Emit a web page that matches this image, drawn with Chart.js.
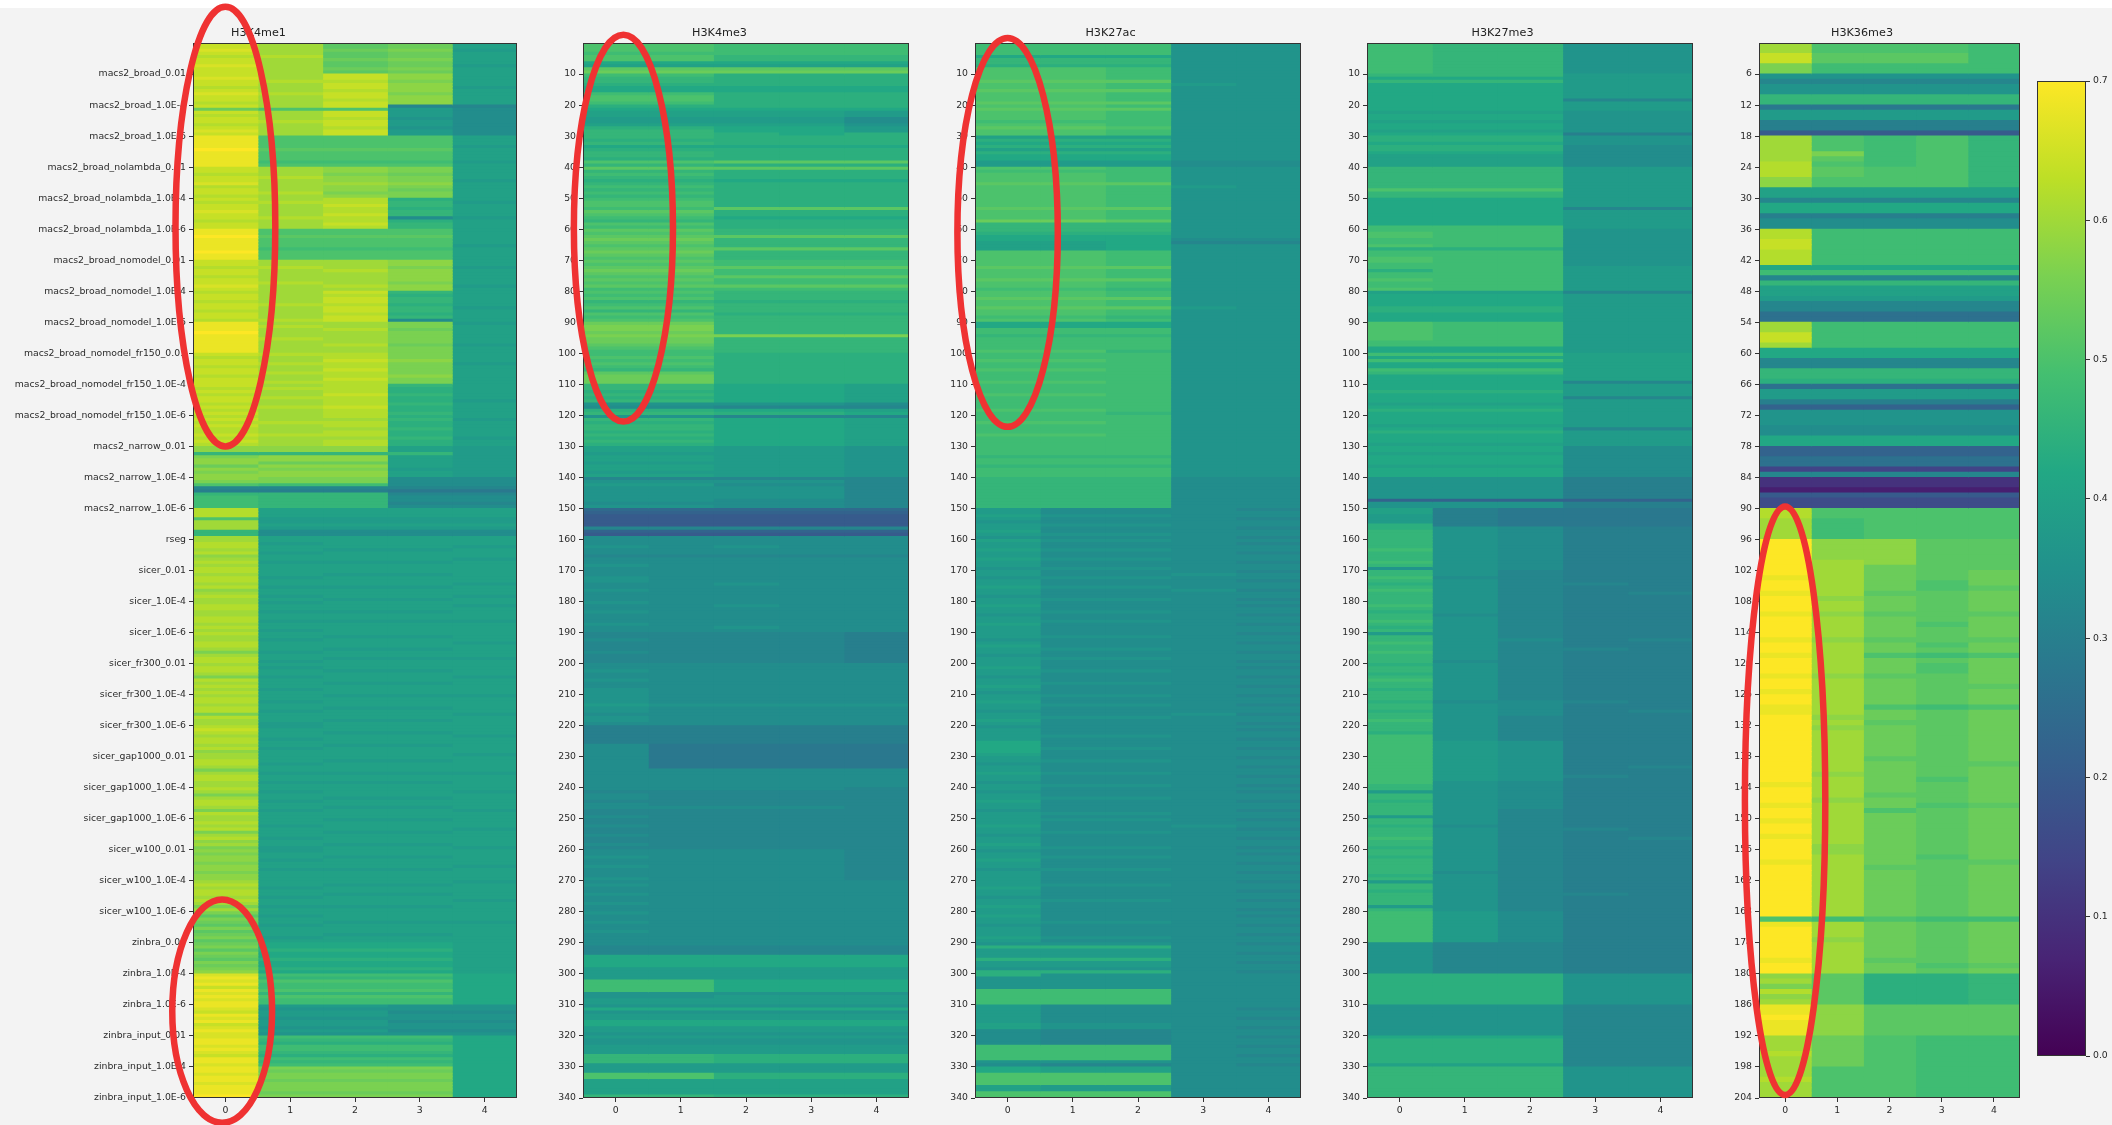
<!DOCTYPE html>
<html><head><meta charset="utf-8">
<script src="https://cdn.jsdelivr.net/npm/chart.js@4.4.1/dist/chart.umd.min.js"></script>
<style>
html,body{margin:0;padding:0;background:#f3f3f3;width:2112px;height:1125px;overflow:hidden;position:relative}
#topband{position:absolute;left:0;top:0;width:2112px;height:8px;background:#fff}
canvas{position:absolute;top:0}
</style></head><body>
<div id="topband"></div>
<canvas id="c1" width="530" height="1125" style="left:0px;width:530px;height:1125px"></canvas>
<canvas id="c2" width="390" height="1125" style="left:530px;width:390px;height:1125px"></canvas>
<canvas id="c3" width="392" height="1125" style="left:920px;width:392px;height:1125px"></canvas>
<canvas id="c4" width="392" height="1125" style="left:1312px;width:392px;height:1125px"></canvas>
<canvas id="c5" width="326" height="1125" style="left:1704px;width:326px;height:1125px"></canvas>
<canvas id="cb" width="82" height="1125" style="left:2030px;width:82px;height:1125px"></canvas>
<script>
// ===== DATA =====
// Each heatmap column is written as groups of characters, one character per row.
// Character c encodes the value CODE.indexOf(c) * STEP (e.g. 'p' = 0.50, 'z' = 0.70).
const CODE = "0123456789abcdefghijklmnopqrstuvwxyz";
const STEP = 0.02;
const VMAX = 0.7;

const PANEL_TITLES = ["H3K4me1", "H3K4me3", "H3K27ac", "H3K27me3", "H3K36me3"];
const X_TICKS = [0, 1, 2, 3, 4];
const TICKS_340 = [10,20,30,40,50,60,70,80,90,100,110,120,130,140,150,160,170,180,190,200,210,220,230,240,250,260,270,280,290,300,310,320,330,340];
const TICKS_204 = [6,12,18,24,30,36,42,48,54,60,66,72,78,84,90,96,102,108,114,120,126,132,138,144,150,156,162,168,174,180,186,192,198,204];
const TOOL_LABELS = ["macs2_broad_0.01","macs2_broad_1.0E-4","macs2_broad_1.0E-6","macs2_broad_nolambda_0.01","macs2_broad_nolambda_1.0E-4","macs2_broad_nolambda_1.0E-6","macs2_broad_nomodel_0.01","macs2_broad_nomodel_1.0E-4","macs2_broad_nomodel_1.0E-6","macs2_broad_nomodel_fr150_0.01","macs2_broad_nomodel_fr150_1.0E-4","macs2_broad_nomodel_fr150_1.0E-6","macs2_narrow_0.01","macs2_narrow_1.0E-4","macs2_narrow_1.0E-6","rseg","sicer_0.01","sicer_1.0E-4","sicer_1.0E-6","sicer_fr300_0.01","sicer_fr300_1.0E-4","sicer_fr300_1.0E-6","sicer_gap1000_0.01","sicer_gap1000_1.0E-4","sicer_gap1000_1.0E-6","sicer_w100_0.01","sicer_w100_1.0E-4","sicer_w100_1.0E-6","zinbra_0.01","zinbra_1.0E-4","zinbra_1.0E-6","zinbra_input_0.01","zinbra_input_1.0E-4","zinbra_input_1.0E-6"];
const CB_TICKS = [0, 0.1, 0.2, 0.3, 0.4, 0.5, 0.6, 0.7];

// H3K4me1 (340 rows)
const H3K4me1_c0 = [
"wwxwvwwxww","wxwwvwxwwv","wrwvwwvwxw","yyyyzyyyyy","wwvwwxvwwv",
"wvwwxwwvww","yyzyyyyzyy","wwvwwvwwxw","vwwvwwvwwv","yyyzyyyyyy",
"wvwwvwwvww","wvwvwwvwvw","vwvwvvwvwv","ttnsttrtst","tspgfnoooo",
"vvvpuuunnu","uvvuvtuvuv","vuvvuvtuvu","uvvuuvvuvu","vuuvvusuvv",
"uvvusvuvuv","uvvuvvsvuu","vwvuvvuvtu","uvvusuvvuu","vusuvvusvu",
"uvuvsuvtus","tsttsttstt","uvuvvuvusu","sqsrqsqrsq","rsqsrqsrst",
"xyxywyxyxy","yxwyxywxyx","xyyxyxwyyx","yyxyyxyyyz"];
const H3K4me1_c1 = [
"uuuuvuuuuu","uuvuuuvuuu","upuuuvuuuu","ppppqpppop","uuuvuuuuvu",
"uvuuuuvuuu","ppqpppoppp","uuvuuuuvuu","uuuuvuuuuv","uvuuuvuuuu",
"vuuvuuvuuv","uvuuvuuvuu","uuvuuuvuuu","ttnttrtstt","ssogfnnnnn",
"kkkjjkjhhk","kjkkjkkjkk","kkjkkjkkjk","jkkjkkjkkj","kkjkkkjkkj",
"kjkkjkkkjk","kkjkkjkkkj","jkkkjkkjkk","kkjkkjkkjk","kjkkjkkjkk",
"kkjkkkjkkj","jkkjkkjkkk","kkjkkjkkjk","kjkkjkkkjk","llmllmllml",
"onpoopnpoo","jijjijjiji","onmoonmono","srssrsssrs"];
const H3K4me1_c2 = [
"qqrqqrqqrq","wwvwwvwwvw","wpwwvwwvww","ppppqpppop","ttsttuttst",
"vvwvvwvvwv","ppqpppoppp","uuuvuuuuvu","wvwwvwwvww","uuvuuuuvuu",
"vvwvvwvvwv","vvvwvvvwvv","vuvvuvvuvv","ttnttrtstt","ssogfnnnnn",
"kkkjjkjhhk","kkkjkkkjkk","kjkkkjkkkj","kkkjkkjkkk","kjkkkjkkjk",
"kkjkkkjkkk","jkkkjkkkjk","kkjkkkjkkk","kjkkkjkkjk","kkkjkkjkkk",
"jkkkjkkkjk","kkjkkkjkkk","kjkkjkkkjk","kkkjkkkjkk","llmllmllml",
"onpoopnpoo","jijjijjiji","onmoonmono","srssrsssrs"];
const H3K4me1_c3 = [
"rrsrrsrrsr","ttstttsttt","gjjjijjijj","ppppqpppop","ssrsstsrss",
"mnnmnnhmnn","ppqpppoppp","ttsttttstt","nmnnmnnmnh","ssrssssrss",
"sstsssstss","nmmnmmnmmn","mnmmnmmnmm","kknkkkkjkk","hhhgeghhgh",
"kkkjjkjhhk","kkkjkkkjkk","kjkkkjkkkj","kkkjkkjkkk","kjkkkjkkjk",
"kkjkkkjkkk","jkkkjkkkjk","kkjkkkjkkk","kjkkkjkkjk","kkkjkkjkkk",
"jkkkjkkkjk","kkjkkkjkkk","kjkkjkkkjk","kkkjkkkjkk","llmllmllml",
"onpoopnpoo","iihiihiihi","onmoonmono","srssrsssrs"];
const H3K4me1_c4 = [
"kkjkkkkjkk","kkkkjkkkkk","ghhhhhhhhh","kkkjkkkkjk","kkkkjkkkkk",
"kjkkkkjkkk","kkkkkjkkkk","kkjkkkkkjk","kkkkkjkkkk","jkkkkkkjkk",
"kkkjkkkkkk","kkkkkjkkkk","kjkkkkkjkk","jjjjjjjjjj","hhhgeghhgh",
"kkkjjkjhhk","kkjkkkjkkk","kkkkjkkkjk","kjkkkkjkkk","kkkjkkkkjk",
"kkkkjkkkkk","jkkkkkjkkk","kkkjkkkkkj","kkkkkjkkkk","kjkkkkkjkk",
"kkkjkkkkkj","kkkkkjkkkk","jkkkkkjkkk","kkkjkkkkkk","kkkkkkkkkk",
"llllllllll","iihiihiihi","llllllllll","llllllllll"];

// H3K4me3 (340 rows)
const H3K4me3_c0 = [
"pppopplkqr","onnmlloppo","mlkkjjkmnn","nmnlmnnmpn","qnonmnonon",
"oppoqponpo","qpqrqpqrqp","qpqrqpqpqo","popnopnpop","rssrsrrqpo",
"opoponqrrr","nnmnmnihmn","inmnnmnmnm","kkjkkjkkjk","gijiiiiihi",
"cbaaaagbah","hhihhghhih","hhiihhihhh","ihhihhhihh","gghggghggg",
"hhihhihhii","iiijiihiih","ffffffhhhh","hhhhhhhhhh","hghhghhggh",
"gghgghgghg","hhihhihhhi","hihhihhihh","ihhihhihhh","hggglllljj",
"jjooooiijj","ilijjlljji","jiijjjnnnj","jjppkkkkkn"];
const H3K4me3_c1 = [
"pppopplkqr","onnmlloppo","mlkkjjkmnn","nmnlmnnmpn","qnonmnonon",
"oppoqponpo","qpqrqpqrqp","qpqrqpqpqo","popnopnpop","rssrsrrqpo",
"opoponqrrr","nnmnmnihmn","inmnnmnmnm","kkjkkjkkjk","gijiiiiihi",
"cbaaaagbah","hhhhhghhhh","hhhhhhhhhh","hhhhhhhhhh","gggggggggg",
"hhhhhhhhhh","hhhihhhhhh","ffffffeeee","eeeehhhhhh","hggggghggg",
"gggggggggg","hhhhhhhhhh","hhhhhhhhhh","hhhhhhhhhh","hggglllljj",
"jjooooiijj","ilijjlljji","jiijjjnnnj","jjppkkkkkn"];
const H3K4me3_c2 = [
"oooonnlkqr","mmmmllmmmm","mlkkjjkllm","mmmlmmmmqm","qmmmlmmmmm",
"mmmqmmlmmm","nnqnnnqnnn","ooqooqooqo","nnnmnnnmnn","nnnnsnnnnn",
"mmmmmmmmmm","lllllliglm","glllllllll","jjjjjjjjjj","gihiiiihhh",
"cbaaaagbah","hhihhghhhh","hhhhihhhhh","hihhhhhhih","gggggggggg",
"hhhhhhhhhh","hhhihhhhhh","ffffffeeee","eeeehhhhhh","hggggghggg",
"gggggggggg","hhhhhhhhhh","hhhhhhhhhh","hhhhhhhhhh","hggglllljj",
"jjllllijjj","ilijjlljji","jiijjjmmmj","jjmmkkkkkm"];
const H3K4me3_c3 = [
"oooonnlkqr","mmmmllmmmm","mlkkjjklll","mmmlmmmmqm","qmmmlmmmmm",
"mmmqmmlmmm","nnqnnnqnnn","ooqooqooqo","nnnmnnnmnn","nnnnsnnnnn",
"mmmmmmmmmm","lllllliglm","glllllllll","jjjjjjjjjj","gihiiiihhh",
"cbaaaagbah","hhhhhghhhh","hhhhhhhhhh","hhhhhhhhhh","gggggggggg",
"hhhhhhhhhh","hhhihhhhhh","ffffffeeee","eeeehhhhhh","hggggghggg",
"gggggggggg","hhhhhhhhhh","hhhhhhhhhh","hhhhhhhhhh","hggglllljj",
"jjllllijjj","ilijjlljji","jiijjjmmmj","jjmmkkkkkm"];
const H3K4me3_c4 = [
"oooonnlkqr","mmmmllmmmm","mljjhhijjm","mmmlmmmmqm","qmmmlmmmmm",
"mmmqmmlmmm","nnqnnnqnnn","ooqooqooqo","nnnmnnnmnn","nnnnsnnnnn",
"mmmmmmmmmm","kkkkkkhgkl","gkkkkkkkkk","iiiiiiiiii","gggggggggg",
"cbaaaagbah","hhhhhghhhh","hhhhhhhhhh","hhhhhhhhhh","ffffffffff",
"hhhhhhhhhh","hhhihhhhhh","ffffffeeee","eeeehhhhhh","gggggggggg",
"gggggggggg","gggggggggg","hhhhhhhhhh","hhhhhhhhhh","hggglllljj",
"jjllllijjj","ilijjlljji","jiijjjmmmj","jjmmkkkkkm"];

// H3K27ac (340 rows)
const H3K27ac_c0 = [
"oooolnnmpp","ppqppqpppq","pqpppopqpp","kmlmkmlljj","popppqpppp",
"pppqppprnn","nmllkkkppp","ppqpppqppo","ppqppqppop","lloonoooop",
"oopoopooop","ooopoooopo","oopooopooo","ooonoonooo","nnnnnnnnnn",
"jjkjijjkji","kjjkjjkjji","jjijjkjjij","jkjjijjkjj","jjijkjjijj",
"jkjjijjkji","jjkjjijjkj","ijjjjllllk","jjijjkjjij","jijjkjjijj",
"jjkjjijjkj","ijjkjjijjj","jjkjjijjkj","jkjjijjjkj","imjjjmjjim",
"miiiiooooo","jjjjjjkkhh","hhhoooooih","llppppkkpp"];
const H3K27ac_c1 = [
"oooolnnmpp","ppqppqpppq","pqpppopqpp","kmlmkmlljj","popppqpppp",
"pppqppprnn","nmllkkkppp","ppqpppqppo","ppqppqppop","lloonoooop",
"oopoopooop","ooopoooopo","oopooopooo","ooonoonooo","nnnnnnnnnn",
"hhihhihhih","ihhihhihhi","hhihhihhhi","hhhihhihhh","hihhhihhih",
"hhihhhihhh","ihhihhhihh","hhhihhhihh","hihhhihhhi","hhhihhhhih",
"ihhhihhhhi","hhihhhihhh","hihhhhihhh","hhhihhhhih","imjjjmjjim",
"iiiiiooooo","hhhhhhiigg","gggoooooig","kkppppjjpp"];
const H3K27ac_c2 = [
"oooolnnmoo","ooqooqoooq","oqooooopoo","kmlmkmlljj","oooooqoooo",
"oooqoooqnn","nmlllllooo","ooqoooqoon","ooqooqoono","lloonoooon",
"oooooooooo","ooooooooon","oooooooooo","ooonoonooo","nnnnnnnnnn",
"hhihhihhih","ihhihhihhi","hhihhihhhi","hhhihhihhh","hihhhihhih",
"hhihhhihhh","ihhihhhihh","hhhihhhihh","hihhhihhhi","hhhihhhhih",
"ihhhihhhhi","hhihhhihhh","hihhhhihhh","hhhihhhhih","imjjjmjjim",
"iiiiiooooo","hhhhhhiigg","gggoooooig","kkppppjjpp"];
const H3K27ac_c3 = [
"iiiiiiiiii","iiijiiiiii","iiiiiiiiii","iiiiiiiihh","iiiiiijiii",
"iiiiiiiiii","iiihgiiiii","iiiiiiiiii","iiiiijiiii","iiiiiiiiii",
"iiiiiiiiii","iiiiiiiiii","iiiiiiiiii","iiiiiiiiii","hhhhhhhhhh",
"hhhhhhhhhh","hhhhhhhhhh","hihhhhihhh","hhhhhhhhhh","hhhhhhhhhh",
"hhhhhhhhhh","hhhhhhihhh","hhhhhhhhhh","hhhhhhhhhh","hhhhhhhhhh",
"hhihhhhhhh","hhhhhhhhhh","hhhhhhhhhh","hhhhhhhhhh","hhhhhhhhhh",
"hhhhhhhhhh","hhhhhhhhhh","hhhhhhhhhh","hhhhhhhhhh"];
const H3K27ac_c4 = [
"iiiiiiiiii","iiiiiiiiii","iiiiiiiiii","iiiiiiiihh","iiiiiiiiii",
"iiiiiiiiii","iiihgiiiii","iiiiiiiiii","iiiiiiiiii","iiiiiiiiii",
"iiiiiiiiii","iiiiiiiiii","iiiiiiiiii","iiiiiiiiii","hhhhhhhhhh",
"ghhghhghhg","hghhghhghh","ghhghhghhg","hghhghhghh","ghhghhghhg",
"hghhghhghh","ghhghhghhg","hghhghhghh","ghhghhghhg","hghhghhghh",
"ghhghhghhg","hghhghhghh","ghhghhghhg","hghhghhghh","ghhghhghhg",
"hhhhhhhhhh","hghhghhghh","ghhghhghhg","hhhhhhhhhh"];

// H3K27me3 (340 rows)
const H3K27me3_c0 = [
"oooooooooo","nlnlllllll","llkllkllkl","mmlmmlkkkk","nnnnnnnpnn",
"lllllllllo","oppoopmoop","poomoopoop","kllllmmlll","ppppppooll",
"olollonlll","llmlllklml","lllklmlllk","llklllklll","iiiiiiibii",
"kkjjjmmnnn","nnnonnnoni","nnonmnonnn","nonmnnonmn","jnnonnonnn",
"mnnmnonnmn","nnmnnmnnon","nnmooooooo","ooooooooon","njnnmnnnnj",
"nnmnnnonnm","nnmnnnnnmn","jnnmnnnnjn","oooooooooo","iiiiiiiiii",
"mmmmmmmmmm","iiiiiiiiii","lmmmmmmmmk","nnnnnnnnnn"];
const H3K27me3_c1 = [
"nnnnnnnnnn","nlnlllllll","llkllkllkl","mmlmmlkkkk","nnnnnnnpnn",
"lllllllllo","oooooomooo","oooooooooo","kllllmmlll","ooooooooll",
"olollonlll","llmlllklml","lllklmlllk","llklllklll","iiiiiiibii",
"ffffffiiii","iiiiiiiiii","iihiiiiiii","iiiihiiiii","iiiiiiiiih",
"iiiiiiiiii","iihiiiiiii","iiiiijjjjj","jjjjjjjjii","iiiiiiiiii",
"iihiiiiiii","iiiiiiihii","iiiiiiiiii","jjjjjjjjjj","gggggggggg",
"mmmmmmmmmm","iiiiiiiiii","lmmmmmmmmk","nnnnnnnnnn"];
const H3K27me3_c2 = [
"nnnnnnnnnn","nlnlllllll","llkllkllkl","mmlmmlkkkk","nnnnnnnpnn",
"lllllllllo","oooooomooo","oooooooooo","kllllmmlll","ooooooooll",
"olollonlll","llmlllklml","lllklmlllk","llklllklll","iiiiiiibii",
"eeeeeehhhh","hhhhhhhhhh","gggggggggg","gggggggggg","gghggggggg",
"gggggggggg","gghhhhhggg","gggggiiiii","iiiiiiiihh","hhhhhhhggg",
"gggggggggg","gggggggggg","gggggggggg","hhhhhhhhhh","gggggggggg",
"mmmmmmmmmm","iiiiiiiiii","lmmmmmmmmk","nnnnnnnnnn"];
const H3K27me3_c3 = [
"iiiiiiiiii","jjjjjjjjgj","jjiiiiiiif","iiihhhhhhh","jjjjjjjjjj",
"jjjgjjjjjj","iiiiiiiiii","iijjjjjjjj","gjjjjjjjjj","jjjjjjjjjj",
"kkkkkkkkkg","jjjjgjjjjj","jjjjgjjjjj","hhhhhhhhhh","fffffffbff",
"eeeeeeffff","ffffffffff","ffffgfffff","ffffffffff","fffffgffff",
"ffffffffff","ffgfffffff","ffffffffff","ffffffgfff","ffffffffff",
"fffgffffff","ffffffffff","ffffgfffff","ffffffffff","ffffffffff",
"iiiiiiiiii","gggggggggg","gggggggggg","iiiiiiiiii"];
const H3K27me3_c4 = [
"iiiiiiiiii","jjjjjjjjgj","jjiiiiiiif","iiihhhhhhh","jjjjjjjjjj",
"jjjgjjjjjj","iiiiiiiiii","iijjjjjjjj","gjjjjjjjjj","jjjjjjjjjj",
"kkkkkkkkkg","jjjjgjjjjj","jjjjgjjjjj","hhhhhhhhhh","fffffffbff",
"eeeeeeffff","ffffffffff","fffffffgff","ffffffffff","ffgfffffff",
"ffffffffff","fffffgffff","ffffffffff","fffgffffff","ffffffffff",
"ffffffgfff","ffffffffff","ffffffffff","ffffffffff","ffffffffff",
"iiiiiiiiii","gggggggggg","gggggggggg","iiiiiiiiii"];

// H3K36me3 (204 rows)
const H3K36me3_c0 = [
"uuwwss","igiinn","ejjffa","uuuuuv","vvttkk",
"gllfhh","vvwwvv","vlognk","kjggdd","uuwwul",
"lggnnm","djjfbi","iihhll","bbdd7g","553a88",
"vvuuuu","zzzzzz","zyzzyz","zzyzzz","zyzzyz",
"zzyzzy","zzyyzz","zzzzzz","zzzzzy","zzzyzz",
"yzzyzz","zzyzzz","zzzzzz","zpyzzz","zzzyzz",
"tusvtu","yyzyyy","uuuvuu","uuvuuu"];
const H3K36me3_c1 = [
"ppqqoo","igiinn","ejjffa","pppsqp","qqppkk",
"gllfhh","oooooo","olognk","kjggdd","oooool",
"lggnnm","djjfbi","iihhll","bbdd7g","553a88",
"ppoooo","ttttuu","uuuuut","uutuuu","utuuuu",
"uutuuu","uuuutu","tuuuuu","uuutuu","uutuuu",
"uuuuut","tuuuuu","uuuuuu","uouuut","uuuuuu",
"qqqqqq","tttttt","rrrrrr","pppppp"];
const H3K36me3_c2 = [
"ppqqoo","igiinn","ejjffa","oooooo","ppppkk",
"gllfhh","oooooo","olognk","kjggdd","oooool",
"lggnnm","djjfbi","iihhll","bbdd7g","553a88",
"pppppp","tttttr","rrrrqr","rrqrrr","rqrrpr",
"rrqrrr","rrprrq","rrrrrr","qrrrrr","rqrrpr",
"rrrrrr","rrrqrr","rrrrrr","rprrrr","rrrqrr",
"mmmmmm","qqqqqq","pppppp","pppppp"];
const H3K36me3_c3 = [
"ppqqoo","igiinn","ejjffa","pppppp","ppppkk",
"gllfhh","oooooo","olognk","kjggdd","oooool",
"lggnnm","djjfbi","iihhll","bbdd7g","553a88",
"pppppp","qqqqqq","qqppqq","qqqqpq","qqpqoq",
"ppqqqq","qqoqqq","qqqqqq","qqqqpq","qqqpqq",
"qqqqqq","qpqqqq","qqqqqq","qoqqqq","qqqqpq",
"mmmmmm","qqqqqq","oooooo","oooooo"];
const H3K36me3_c4 = [
"oooooo","igiinn","ejjffa","nnnnnn","nnnnkk",
"gllfhh","oooooo","olognk","kjggdd","oooool",
"lggnnm","djjfbi","iihhll","bbdd7g","553a88",
"pppppp","qqqqqq","rrrqrr","rrqrrr","rqrrpr",
"rrrrqr","rrprrr","rrrrrr","rqrrrr","rrrqrr",
"rrrrrr","rrqrrr","rrrrrr","rorrrr","rrrrqr",
"nnnnnn","qqqqqq","oooooo","oooooo"];

// Red hand-drawn ellipses (in data units of each panel: column centre, half width in columns, row span)
const ELLIPSES = [
  {panel:0, col:0.0,  halfCols:0.77, rowFrom:-11.7, rowTo:130},
  {panel:0, col:-0.05,halfCols:0.77, rowFrom:276,   rowTo:348},
  {panel:1, col:0.12, halfCols:0.76, rowFrom:-2.7,  rowTo:122},
  {panel:2, col:0.0,  halfCols:0.77, rowFrom:-1.6,  rowTo:123.7},
  {panel:4, col:0.0,  halfCols:0.77, rowFrom:89.6,  rowTo:203.4}
];

// ===== RENDERING =====
const FONT = "'DejaVu Sans', 'Liberation Sans', sans-serif";
const TEXT = '#2a2a2a';
const VIRIDIS = [[68,1,84],[72,36,117],[65,68,135],[53,95,141],[42,120,142],[33,145,140],[34,168,132],[68,191,112],[122,209,81],[189,223,38],[253,231,37]];
function viridis(t){
  t = Math.min(1, Math.max(0, t));
  const x = t * 10, i = Math.min(9, Math.floor(x)), f = x - i;
  const a = VIRIDIS[i], b = VIRIDIS[i+1];
  return 'rgb(' + Math.round(a[0]+(b[0]-a[0])*f) + ',' + Math.round(a[1]+(b[1]-a[1])*f) + ',' + Math.round(a[2]+(b[2]-a[2])*f) + ')';
}
function decode(groups, g){
  const out = [];
  for (const s of groups){
    const t = (s + s.slice(-1).repeat(g)).slice(0, g);
    for (const ch of t) out.push(Math.max(0, CODE.indexOf(ch)) * STEP);
  }
  return out;
}
const framePlugin = {
  id: 'frame',
  afterDatasetsDraw(chart){
    const {ctx, chartArea: a} = chart;
    ctx.save(); ctx.strokeStyle = '#333'; ctx.lineWidth = 1;
    ctx.strokeRect(Math.round(a.left)+0.5, Math.round(a.top)+0.5, Math.round(a.width)-1, Math.round(a.height)-1);
    ctx.restore();
  }
};
function ellipsePlugin(list){
  return {
    id: 'ellipses',
    afterDraw(chart){
      const {ctx} = chart; const xs = chart.scales.x, ys = chart.scales.y;
      ctx.save(); ctx.strokeStyle = '#ef3232'; ctx.lineWidth = 6.5;
      for (const e of list){
        const cx = xs.getPixelForValue(e.col);
        const rx = Math.abs(xs.getPixelForValue(e.col + e.halfCols) - cx);
        const y1 = ys.getPixelForValue(e.rowFrom), y2 = ys.getPixelForValue(e.rowTo);
        ctx.beginPath();
        ctx.ellipse(cx, (y1+y2)/2, rx, Math.abs(y2-y1)/2, 0, 0, Math.PI*2);
        ctx.stroke();
      }
      ctx.restore();
    }
  };
}
const tickFont = {family: FONT, size: 9.3};
const gridOpts = {display: true, drawOnChartArea: false, drawTicks: true, tickLength: 4, color: '#333', lineWidth: 1, offset: false};

function heatmap(id, panelIndex, colGroups, g, nRows, yTicks, yLabels, yWidth, padRight){
  const cols = colGroups.map(gr => decode(gr, g));
  const datasets = cols.map((vals, j) => ({
    data: vals.map((v, i) => ({y: i + 0.5, x: [j - 0.5, j + 0.5]})),
    backgroundColor: vals.map(v => viridis(v / VMAX)),
    borderWidth: 0, grouped: false, barPercentage: 1, categoryPercentage: 1, inflateAmount: 0.5
  }));
  return new Chart(document.getElementById(id), {
    type: 'bar',
    data: {datasets},
    options: {
      indexAxis: 'y', responsive: false, animation: false, events: [],
      layout: {padding: {top: 26.3, bottom: 5, left: 0, right: padRight}},
      plugins: {
        legend: {display: false}, tooltip: {enabled: false},
        title: {display: true, text: PANEL_TITLES[panelIndex], color: '#222',
          font: {family: FONT, size: 11.2, weight: 'normal'}, padding: {top: 0, bottom: 3.3}}
      },
      scales: {
        x: {type: 'linear', min: -0.5, max: 4.5, offset: false,
          afterBuildTicks: a => { a.ticks = X_TICKS.map(v => ({value: v})); },
          afterFit: s => { s.height = 22; },
          ticks: {autoSkip: false, maxRotation: 0, font: tickFont, color: TEXT, padding: 3},
          grid: gridOpts, border: {display: false}},
        y: {type: 'linear', reverse: true, min: 0, max: nRows, offset: false,
          afterBuildTicks: a => { a.ticks = yTicks.map(v => ({value: v})); },
          afterFit: s => { s.width = yWidth; },
          ticks: {autoSkip: false, font: tickFont, color: TEXT, padding: 3,
            callback: (v, i) => yLabels ? yLabels[i] : String(yTicks[i])},
          grid: gridOpts, border: {display: false}}
      }
    },
    plugins: [framePlugin, ellipsePlugin(ELLIPSES.filter(e => e.panel === panelIndex))]
  });
}

heatmap('c1', 0, [H3K4me1_c0,H3K4me1_c1,H3K4me1_c2,H3K4me1_c3,H3K4me1_c4], 10, 340, TICKS_340, TOOL_LABELS, 193, 13);
heatmap('c2', 1, [H3K4me3_c0,H3K4me3_c1,H3K4me3_c2,H3K4me3_c3,H3K4me3_c4], 10, 340, TICKS_340, null, 53, 11);
heatmap('c3', 2, [H3K27ac_c0,H3K27ac_c1,H3K27ac_c2,H3K27ac_c3,H3K27ac_c4], 10, 340, TICKS_340, null, 55, 11);
heatmap('c4', 3, [H3K27me3_c0,H3K27me3_c1,H3K27me3_c2,H3K27me3_c3,H3K27me3_c4], 10, 340, TICKS_340, null, 55, 11);
heatmap('c5', 4, [H3K36me3_c0,H3K36me3_c1,H3K36me3_c2,H3K36me3_c3,H3K36me3_c4], 6, 204, TICKS_204, null, 55, 10);

// colour bar
new Chart(document.getElementById('cb'), {
  type: 'bar',
  data: {labels: ['colorbar'], datasets: [{
    data: [[0, VMAX]], borderWidth: 0, barPercentage: 1, categoryPercentage: 1,
    backgroundColor: ctx => {
      const ca = ctx.chart.chartArea; if (!ca) return '#21918c';
      const gr = ctx.chart.ctx.createLinearGradient(0, ca.bottom, 0, ca.top);
      VIRIDIS.forEach((c, k) => gr.addColorStop(k / 10, 'rgb(' + c.join(',') + ')'));
      return gr;
    }
  }]},
  options: {
    responsive: false, animation: false, events: [],
    layout: {padding: {top: 81, bottom: 69, left: 7, right: 0}},
    plugins: {legend: {display: false}, tooltip: {enabled: false}},
    scales: {
      x: {display: false},
      y: {position: 'right', min: 0, max: VMAX,
        afterBuildTicks: a => { a.ticks = CB_TICKS.map(v => ({value: v})); },
        afterFit: s => { s.width = 26; },
        ticks: {autoSkip: false, font: tickFont, color: TEXT, padding: 3, callback: v => Number(v).toFixed(1)},
        grid: gridOpts, border: {display: false}}
    }
  },
  plugins: [framePlugin]
});
</script>
</body></html>
